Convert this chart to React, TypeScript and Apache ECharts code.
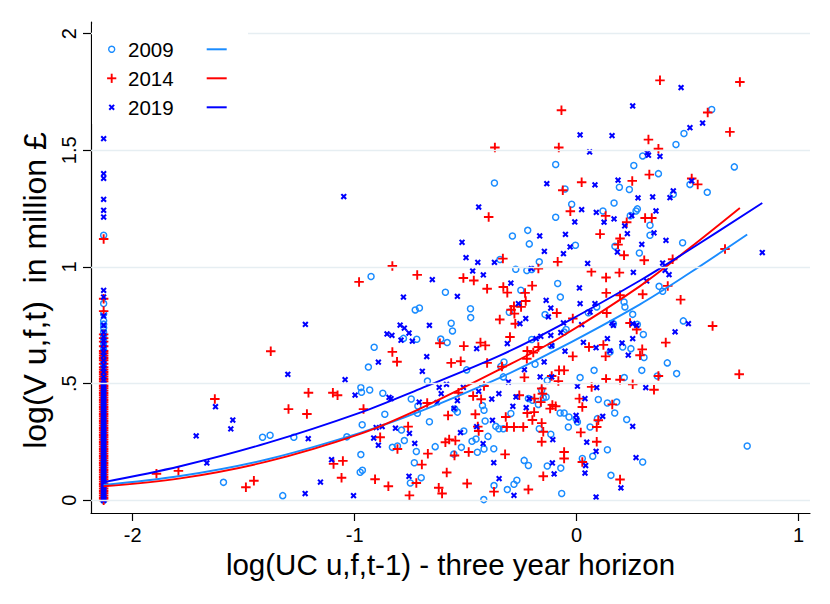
import React, { useEffect, useRef } from "react";
import * as echarts from "echarts";

const FONT = "'Liberation Sans', Arial, Helvetica, sans-serif";

const seriesNames = ["2009", "2014", "2019"];
const colors = ["#1a8cff", "#ff0000", "#0000ff"];
const xTicks = [-2, -1, 0, 1];
const yTicks = [0, 0.5, 1, 1.5, 2];
const yTickLabels = ["0", ".5", "1", "1.5", "2"];
const xTitle = "log(UC u,f,t-1) - three year horizon";
const yTitle = "log(V u,f,t)  in million £";

// firms with the minimum UC value (stacked column on the left)
const colX = -2.131;
const col2009 = [1.136, 0.843, 0.8, 0.77, 0.755, 0.74, 0.72, 0.705, 0.69, 0.675, 0.66, 0.645, 0.63, 0.615, 0.6, 0.585, 0.57, 0.555, 0.54, 0.525, 0.51, 0.495, 0.48, 0.465, 0.45, 0.435, 0.42, 0.405, 0.39, 0.375, 0.36, 0.345, 0.33, 0.315, 0.3, 0.285, 0.27, 0.255, 0.24, 0.225, 0.21, 0.195, 0.18, 0.165, 0.15, 0.135, 0.12, 0.105, 0.09, 0.075, 0.06, 0.05, 0.04, 0.03, 0.02, 0.01, 0];
const col2014 = [1.12, 0.864, 0.811, 0.711, 0.695, 0.68, 0.66, 0.64, 0.63, 0.62, 0.61, 0.6, 0.585, 0.57, 0.56, 0.55, 0.54, 0.53, 0.52, 0.51, 0.5, 0.49, 0.48, 0.47, 0.46, 0.45, 0.44, 0.43, 0.42, 0.41, 0.4, 0.39, 0.38, 0.37, 0.36, 0.35, 0.34, 0.33, 0.32, 0.31, 0.3, 0.29, 0.28, 0.27, 0.26, 0.25, 0.24, 0.23, 0.22, 0.21, 0.2, 0.19, 0.18, 0.17, 0.16, 0.15, 0.14, 0.13, 0.12, 0.11, 0.1, 0.09, 0.08, 0.07, 0.06, 0.05, 0.04, 0.03, 0.02, 0.01, 0];
const col2019 = [1.55, 1.4, 1.38, 1.29, 1.243, 1.214, 0.9, 0.871, 0.79, 0.75, 0.72, 0.7, 0.685, 0.67, 0.65, 0.635, 0.62, 0.6, 0.58, 0.565, 0.55, 0.53, 0.515, 0.5, 0.49, 0.48, 0.47, 0.46, 0.45, 0.44, 0.43, 0.42, 0.41, 0.4, 0.39, 0.38, 0.37, 0.36, 0.35, 0.34, 0.33, 0.32, 0.31, 0.3, 0.29, 0.28, 0.27, 0.26, 0.25, 0.24, 0.23, 0.22, 0.21, 0.2, 0.19, 0.18, 0.17, 0.16, 0.15, 0.14, 0.13, 0.12, 0.11, 0.1, 0.09, 0.08, 0.07, 0.06, 0.05, 0.04, 0.03, 0.02, 0.01, 0.005, 0];

const pts2009 = [
  [-1.591, 0.077], [-1.415, 0.27], [-1.381, 0.279], [-1.274, 0.27], [-1.324, 0.02], [-1.035, 0.272],
  [-0.37, 1.36], [-0.926, 0.959], [-0.591, 0.892], [-0.727, 0.816], [-0.708, 0.824], [-0.478, 0.821], [-0.477, 0.783],
  [-0.565, 0.759], [-0.559, 0.726], [-0.78, 0.694], [-0.72, 0.69], [-0.612, 0.691], [-0.583, 0.676], [-0.912, 0.656],
  [-0.938, 0.571], [-0.495, 0.559], [-0.672, 0.511], [-0.972, 0.483], [-0.969, 0.463], [-0.932, 0.473], [-0.873, 0.459],
  [-0.745, 0.434], [-0.715, 0.404], [-0.717, 0.373], [-0.864, 0.369], [-0.663, 0.337], [-0.966, 0.324], [-0.549, 0.391],
  [-0.537, 0.378], [-0.424, 0.406], [-0.417, 0.386], [-0.412, 0.34], [-0.364, 0.317], [-0.35, 0.307], [-0.789, 0.301],
  [-0.776, 0.256], [-0.83, 0.227], [-0.807, 0.233], [-0.637, 0.23], [-0.722, 0.209], [-0.508, 0.297], [-0.471, 0.253],
  [-0.453, 0.263], [-0.399, 0.274], [-0.519, 0.227], [-0.553, 0.198], [-0.447, 0.206], [-0.417, 0.22], [-0.373, 0.221],
  [-0.972, 0.196], [-0.731, 0.161], [-0.975, 0.12], [-0.965, 0.129], [-0.749, 0.074], [-0.7, 0.097], [-0.372, 0.063],
  [-0.418, 0.003],
  [-0.094, 1.439], [0.258, 1.435], [0.193, 1.342], [0.238, 1.332], [-0.052, 1.334], [-0.022, 1.269], [0.169, 1.274],
  [0.119, 1.24], [-0.094, 1.213], [0.242, 1.22], [0.268, 1.24], [0.274, 1.249], [-0.22, 1.157], [-0.289, 1.133],
  [-0.213, 1.099], [-0.005, 1.093], [0.173, 1.089], [0.283, 1.06], [-0.168, 1.022], [-0.345, 1.032], [-0.274, 0.99],
  [-0.224, 0.985], [-0.202, 0.989], [-0.085, 0.929], [-0.251, 0.9],
  [-0.073, 0.871], [-0.303, 0.806], [-0.142, 0.796], [0.053, 0.804], [0.091, 0.829], [0.214, 0.85], [0.218, 0.829],
  [0.253, 0.797], [0.166, 0.757], [-0.047, 0.732], [-0.056, 0.721], [-0.202, 0.689], [-0.115, 0.664], [0.208, 0.657],
  [0.245, 0.65], [0.151, 0.636], [-0.327, 0.593], [-0.341, 0.574], [-0.187, 0.583], [-0.33, 0.529], [0.079, 0.557],
  [0.016, 0.526], [-0.132, 0.514], [0.215, 0.526], [-0.217, 0.436], [-0.199, 0.429], [-0.15, 0.44], [-0.137, 0.443],
  [-0.157, 0.472], [-0.172, 0.411], [0.098, 0.432], [0.139, 0.417], [0.181, 0.421], [0.172, 0.374], [-0.296, 0.372],
  [-0.33, 0.307], [-0.074, 0.374], [-0.056, 0.374], [-0.034, 0.357], [-0.002, 0.35], [0.004, 0.336], [-0.037, 0.314],
  [-0.168, 0.307], [0.061, 0.314], [0.094, 0.35], [0.226, 0.346], [-0.116, 0.283], [0.139, 0.217], [0.073, 0.189],
  [0.026, 0.179], [-0.236, 0.171], [-0.217, 0.149], [-0.132, 0.147], [-0.071, 0.138], [0.155, 0.107], [-0.269, 0.086],
  [-0.282, 0.069], [-0.312, 0.046], [-0.067, 0.029],
  [0.609, 1.675], [0.484, 1.572], [0.448, 1.525], [0.298, 1.476], [0.369, 1.4], [0.711, 1.429], [0.511, 1.354],
  [0.436, 1.312], [0.589, 1.32], [0.331, 1.179], [0.331, 1.136], [0.478, 1.104], [0.372, 0.917],
  [0.388, 0.896], [0.481, 0.769], [0.274, 0.754], [0.301, 0.711], [0.304, 0.612], [0.409, 0.589], [0.294, 0.557],
  [0.364, 0.533], [0.451, 0.543], [0.769, 0.233], [0.298, 0.164],
];

const pts2014 = [
  [-1.378, 0.639], [-1.63, 0.434], [-1.208, 0.461], [-1.098, 0.461], [-1.077, 0.45], [-1.298, 0.391], [-1.215, 0.37],
  [-1.893, 0.114], [-1.794, 0.126], [-1.49, 0.056], [-1.454, 0.084], [-1.095, 0.156], [-1.053, 0.169], [-1.059, 0.097],
  [-0.396, 1.214], [-0.83, 1.004], [-0.718, 0.966], [-0.98, 0.936], [-0.51, 0.953], [-0.463, 0.942], [-0.403, 0.907],
  [-0.346, 0.775], [-0.616, 0.673], [-0.508, 0.661], [-0.433, 0.676], [-0.411, 0.664], [-0.83, 0.636], [-0.809, 0.594],
  [-0.565, 0.589], [-0.522, 0.596], [-0.403, 0.589], [-0.417, 0.49], [-0.532, 0.461], [-0.466, 0.447], [-0.43, 0.433],
  [-0.673, 0.417], [-0.96, 0.391], [-0.579, 0.364], [-0.456, 0.369], [-0.759, 0.316], [-0.445, 0.316], [-0.441, 0.297],
  [-0.885, 0.27], [-0.591, 0.249], [-0.574, 0.261], [-0.546, 0.256], [-0.807, 0.22], [-0.67, 0.2], [-0.55, 0.192],
  [-0.486, 0.207], [-0.697, 0.153], [-0.908, 0.09], [-0.585, 0.119], [-0.722, 0.074], [-0.848, 0.06], [-0.621, 0.054],
  [-0.606, 0.029], [-0.753, 0.021], [-0.493, 0.072], [-0.372, 0.037],
  [-0.068, 1.672], [-0.368, 1.512], [-0.08, 1.512], [0.023, 1.363], [-0.062, 1.329], [0.251, 1.369], [-0.028, 1.239],
  [0.131, 1.219], [0.226, 1.192], [0.106, 1.141], [0.196, 1.122], [0.187, 1.096], [0.214, 1.05], [-0.332, 1.036],
  [-0.085, 1.022], [-0.172, 0.993], [0.067, 0.98], [0.193, 0.976], [0.133, 0.955], [-0.33, 0.914], [-0.2, 0.92],
  [-0.312, 0.89], [-0.232, 0.889], [-0.229, 0.854], [-0.282, 0.832], [-0.295, 0.817], [-0.28, 0.8], [-0.25, 0.829],
  [-0.276, 0.757], [-0.089, 0.803], [-0.017, 0.779], [0.134, 0.889], [0.196, 0.879], [0.136, 0.803], [0.241, 0.76],
  [0.271, 0.732], [-0.3, 0.7], [-0.222, 0.64], [-0.195, 0.633], [-0.172, 0.657], [-0.224, 0.607], [-0.017, 0.617],
  [0.056, 0.657], [0.121, 0.666], [0.131, 0.617], [-0.336, 0.573], [-0.235, 0.527], [-0.079, 0.557], [-0.056, 0.557],
  [-0.082, 0.511], [-0.112, 0.533], [0.133, 0.52], [0.196, 0.517], [0.253, 0.497], [0.068, 0.486], [-0.258, 0.45],
  [-0.157, 0.479], [-0.154, 0.457], [-0.19, 0.436], [-0.161, 0.421], [-0.109, 0.409], [-0.094, 0.403], [-0.119, 0.393],
  [0.013, 0.436], [0.026, 0.4], [0.161, 0.411], [-0.222, 0.374], [-0.191, 0.378], [-0.199, 0.344], [-0.319, 0.357],
  [-0.314, 0.314], [-0.282, 0.314], [-0.24, 0.314], [-0.157, 0.331], [-0.15, 0.294], [0.098, 0.343], [0.091, 0.314],
  [0.019, 0.291], [-0.157, 0.251], [0.091, 0.251], [-0.322, 0.197], [-0.056, 0.207], [-0.056, 0.179], [0.026, 0.164],
  [-0.15, 0.103], [-0.217, 0.046], [0.196, 0.089],
  [0.376, 1.8], [0.736, 1.793], [0.591, 1.662], [0.691, 1.579], [0.324, 1.546], [0.369, 1.507], [0.328, 1.396],
  [0.519, 1.379], [0.546, 1.354], [0.309, 1.21], [0.339, 1.21], [0.305, 1.029], [0.433, 1.033], [0.669, 1.077],
  [0.411, 0.919],
  [0.298, 0.883], [0.469, 0.86], [0.613, 0.747], [0.402, 0.676], [0.296, 0.647], [0.286, 0.622], [0.369, 0.533],
  [0.733, 0.54], [0.349, 0.474],
];

const pts2019 = [
  [-1.049, 1.302], [-1.222, 0.754], [-1.301, 0.54], [-1.043, 0.517], [-1.627, 0.401], [-1.549, 0.344], [-1.558, 0.306],
  [-1.714, 0.276], [-1.209, 0.264], [-1.666, 0.16], [-1.104, 0.174], [-1.154, 0.078], [-1.223, 0.029], [-0.998, 0.451],
  [-1.005, 0.02],
  [-0.441, 1.257], [-0.516, 1.106], [-0.498, 1.04], [-0.445, 1.02], [-0.37, 1.02], [-0.468, 0.983], [-0.42, 0.966],
  [-0.65, 0.946], [-0.78, 0.871], [-0.537, 0.874], [-0.663, 0.75], [-0.795, 0.751], [-0.776, 0.738], [-0.755, 0.717],
  [-0.854, 0.713], [-0.832, 0.707], [-0.791, 0.686], [-0.74, 0.682], [-0.45, 0.65], [-0.675, 0.616], [-0.893, 0.592],
  [-0.695, 0.553], [-0.619, 0.484], [-0.586, 0.497], [-0.61, 0.457], [-0.51, 0.484], [-0.441, 0.467], [-0.845, 0.441],
  [-0.836, 0.436], [-0.709, 0.421], [-0.537, 0.427], [-0.628, 0.419], [-0.382, 0.434], [-0.35, 0.457], [-0.552, 0.394],
  [-0.903, 0.312], [-0.876, 0.316], [-0.816, 0.309], [-0.753, 0.287], [-0.914, 0.267], [-0.893, 0.236], [-0.523, 0.29],
  [-0.45, 0.316], [-0.729, 0.244], [-0.379, 0.343], [-0.421, 0.243], [-0.373, 0.161], [-0.755, 0.103],
  [0.253, 1.69], [0.016, 1.566], [0.16, 1.563], [0.059, 1.493], [-0.134, 1.357], [0.083, 1.352], [0.187, 1.372],
  [0.277, 1.296], [0.023, 1.246], [0.089, 1.234], [-0.008, 1.193], [0.124, 1.192], [0.169, 1.206], [0.249, 1.22],
  [0.217, 1.176], [0.229, 1.143], [-0.166, 1.133], [-0.05, 1.14], [-0.029, 1.086], [-0.145, 1.067], [-0.059, 1.057],
  [0.184, 1.064], [0.05, 1.015], [0.256, 0.977], [-0.204, 0.993], [-0.296, 0.931], [0.013, 0.91],
  [-0.262, 0.843], [-0.137, 0.857], [-0.116, 0.824], [-0.229, 0.779], [-0.255, 0.757], [-0.312, 0.672], [-0.127, 0.786],
  [-0.059, 0.76], [0.023, 0.753], [0.016, 0.843], [0.061, 0.807], [0.083, 0.843], [0.159, 0.76], [0.166, 0.75],
  [0.253, 0.757], [0.271, 0.75], [-0.182, 0.693], [-0.161, 0.703], [-0.116, 0.707], [-0.071, 0.719], [-0.112, 0.663],
  [0.031, 0.677], [0.088, 0.654], [0.139, 0.693], [0.205, 0.674], [0.253, 0.693], [-0.052, 0.639], [0.151, 0.64],
  [0.233, 0.622], [-0.146, 0.593], [-0.235, 0.56], [-0.307, 0.507], [-0.164, 0.529], [-0.112, 0.529], [0.004, 0.489],
  [0.091, 0.483], [-0.273, 0.443], [-0.213, 0.436], [-0.287, 0.403], [-0.227, 0.397], [0.038, 0.436], [-0.002, 0.364],
  [0.001, 0.343], [0.118, 0.36], [0.253, 0.317], [-0.107, 0.26], [0.046, 0.249], [0.088, 0.21], [-0.109, 0.16],
  [0.041, 0.149], [0.268, 0.183], [-0.101, 0.113], [0.038, 0.117], [-0.349, 0.093], [-0.282, 0.021], [0.088, 0.014],
  [0.2, 0.053],
  [0.471, 1.769], [0.568, 1.617], [0.511, 1.597], [0.319, 1.489], [0.324, 1.479], [0.376, 1.474], [0.519, 1.369],
  [0.436, 1.326], [0.421, 1.297], [0.343, 1.3], [0.358, 1.24], [0.349, 1.146], [0.403, 1.114], [0.294, 1.097],
  [0.837, 1.062], [0.388, 1.017], [0.399, 0.986], [0.417, 0.967], [0.316, 0.94],
  [0.504, 0.757], [0.444, 0.722], [0.312, 0.483],
];

// quadratic fit lines
const fitX2009 = [-2.131, -1.786, -1.396, -0.975, -0.705, -0.344, -0.074, 0.286, 0.511, 0.769];
const fitY2009 = [0.066, 0.104, 0.175, 0.289, 0.381, 0.526, 0.653, 0.84, 0.975, 1.139];
const fitX2014 = [-2.131, -1.786, -1.396, -0.975, -0.705, -0.344, -0.074, 0.286, 0.511, 0.736];
const fitY2014 = [0.06, 0.094, 0.166, 0.285, 0.393, 0.562, 0.698, 0.918, 1.082, 1.253];
const fitX2019 = [-2.131, -1.786, -1.396, -0.975, -0.705, -0.344, -0.074, 0.286, 0.511, 0.837];
const fitY2019 = [0.078, 0.146, 0.245, 0.376, 0.478, 0.621, 0.75, 0.942, 1.075, 1.274];

const PLUS = "path://M4,0H6V4H10V6H6V10H4V6H0V4H4Z";
const PLUS_THICK = "path://M3.5,0H6.5V3.5H10V6.5H6.5V10H3.5V6.5H0V3.5H3.5Z";

function buildOption() {
  const cols = [col2009, col2014, col2019];
  const pts = [pts2009, pts2014, pts2019];
  const fitsX = [fitX2009, fitX2014, fitX2019];
  const fitsY = [fitY2009, fitY2014, fitY2019];
  const scatterStyles: any[] = [
    { symbol: "circle", symbolSize: 6, itemStyle: { color: "rgba(0,0,0,0)", borderColor: colors[0], borderWidth: 1.5, opacity: 1 } },
    { symbol: PLUS, symbolSize: 9.5, itemStyle: { color: colors[1], opacity: 1 } },
    { symbol: PLUS_THICK, symbolSize: 6.8, symbolRotate: 45, itemStyle: { color: colors[2], opacity: 1 } },
  ];
  const series: any[] = [
    {
      type: "line",
      name: "grid",
      data: [],
      silent: true,
      z: 0,
      markLine: {
        silent: true,
        symbol: ["none", "none"],
        label: { show: false },
        lineStyle: { color: "#e6eef2", width: 1.3, type: "solid" },
        data: yTicks.map((v) => ({ yAxis: v })),
      },
    },
  ];
  seriesNames.forEach((name, i) => {
    const data = cols[i].map((y) => [colX, y]).concat(pts[i]);
    series.push({
      type: "scatter",
      name,
      data,
      silent: true,
      z: 2,
      ...scatterStyles[i],
    });
  });
  seriesNames.forEach((name, i) => {
    series.push({
      type: "line",
      name: name + " fit",
      data: fitsX[i].map((x, j) => [x, fitsY[i][j]]),
      smooth: 0.35,
      showSymbol: false,
      symbol: "none",
      silent: true,
      z: 3,
      lineStyle: { color: colors[i], width: 1.9 },
    });
  });

  const rowY = [49.3, 78.3, 107.3];
  const mx = 111.7;
  const graphic: any[] = [
    { type: "rect", z: 100, shape: { x: 92, y: 24, width: 156, height: 100 }, style: { fill: "#fff" } },
    { type: "circle", z: 101, shape: { cx: mx, cy: rowY[0], r: 3 }, style: { fill: "none", stroke: colors[0], lineWidth: 1.4 } },
    { type: "line", z: 101, shape: { x1: mx - 4.6, y1: rowY[1], x2: mx + 4.6, y2: rowY[1] }, style: { stroke: colors[1], lineWidth: 1.9 } },
    { type: "line", z: 101, shape: { x1: mx, y1: rowY[1] - 4.6, x2: mx, y2: rowY[1] + 4.6 }, style: { stroke: colors[1], lineWidth: 1.9 } },
    { type: "line", z: 101, shape: { x1: mx - 2.4, y1: rowY[2] - 2.4, x2: mx + 2.4, y2: rowY[2] + 2.4 }, style: { stroke: colors[2], lineWidth: 2 } },
    { type: "line", z: 101, shape: { x1: mx - 2.4, y1: rowY[2] + 2.4, x2: mx + 2.4, y2: rowY[2] - 2.4 }, style: { stroke: colors[2], lineWidth: 2 } },
  ];
  seriesNames.forEach((name, i) => {
    graphic.push({
      type: "text",
      z: 101,
      x: 128,
      y: rowY[i],
      style: { text: name, fontSize: 20.5, fontFamily: FONT, fill: "#000", verticalAlign: "middle", align: "left" },
    });
    graphic.push({
      type: "line",
      z: 101,
      shape: { x1: 206.7, y1: rowY[i], x2: 226.7, y2: rowY[i] },
      style: { stroke: colors[i], lineWidth: 2 },
    });
  });

  return {
    animation: false,
    backgroundColor: "#fff",
    textStyle: { fontFamily: FONT },
    grid: { left: 91, right: 20, top: 22, bottom: 91, containLabel: false },
    xAxis: {
      type: "value",
      min: -2.188,
      max: 1.052,
      axisLine: { show: true, onZero: false, lineStyle: { color: "#000", width: 1.2 } },
      axisTick: { show: true, length: 8, customValues: xTicks, lineStyle: { color: "#000", width: 1.2 } },
      axisLabel: { show: true, customValues: xTicks, fontSize: 20, color: "#000", margin: 12, fontFamily: FONT, formatter: (v: number) => String(v) },
      splitLine: { show: false },
      name: xTitle,
      nameLocation: "middle",
      nameGap: 35,
      nameTextStyle: { fontSize: 29.5, color: "#000", fontFamily: FONT },
    },
    yAxis: {
      type: "value",
      min: -0.0544,
      max: 2.05,
      axisLine: { show: true, onZero: false, lineStyle: { color: "#000", width: 1.2 } },
      axisTick: { show: true, length: 8, customValues: yTicks, lineStyle: { color: "#000", width: 1.2 } },
      axisLabel: {
        show: true,
        customValues: yTicks,
        rotate: 90,
        fontSize: 20,
        color: "#000",
        margin: 12,
        fontFamily: FONT,
        formatter: (v: number) => {
          const k = yTicks.findIndex((t) => Math.abs(t - v) < 1e-9);
          return k >= 0 ? yTickLabels[k] : "";
        },
      },
      splitLine: { show: false },
      name: yTitle,
      nameLocation: "middle",
      nameRotate: 90,
      nameGap: 36,
      nameTextStyle: { fontSize: 32, color: "#000", fontFamily: FONT, padding: [0, 46, 0, 0] },
    },
    series,
    graphic,
  };
}

export default function App() {
  const ref = useRef<HTMLDivElement>(null);
  useEffect(() => {
    if (!ref.current) return;
    const chart = echarts.init(ref.current, null, { renderer: "svg" });
    chart.setOption(buildOption() as any);
    return () => chart.dispose();
  }, []);
  return (
    <div
      ref={ref}
      style={{ position: "fixed", left: 0, top: 0, width: 830, height: 604, background: "#fff" }}
    />
  );
}
